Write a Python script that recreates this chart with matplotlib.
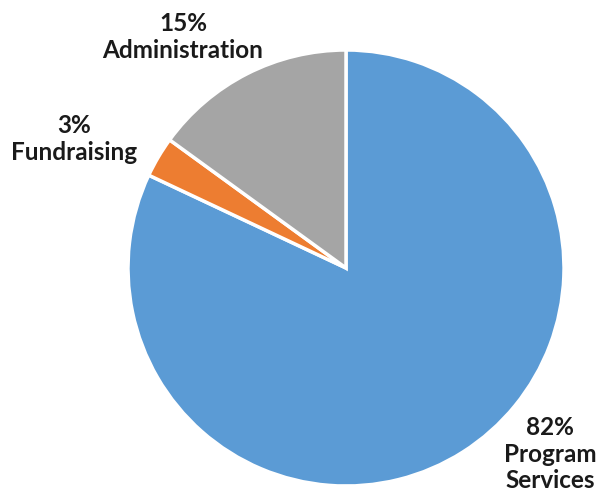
import matplotlib.pyplot as plt

categories = ["Program\nServices", "Fundraising", "Administration"]
shares = [82, 3, 15]
colors = ["#5B9BD5", "#ED7D31", "#A5A5A5"]

# label centres in pixel space (from top-left of the image)
label_pos = [(550, 454), (74, 139), (183, 37)]

W, H = 598, 491
fig = plt.figure(figsize=(W / 100, H / 100), dpi=100)
ax = fig.add_axes([0, 0, 1, 1])
ax.set_xlim(0, W)
ax.set_ylim(0, H)
ax.set_aspect("equal")
ax.axis("off")

ax.pie(shares, colors=colors, startangle=90, counterclock=False,
       center=(346, H - 268), radius=218,
       wedgeprops=dict(edgecolor="white", linewidth=2.5))
ax.set_xlim(0, W)
ax.set_ylim(0, H)

for name, val, (x, y) in zip(categories, shares, label_pos):
    ax.text(x, H - y, f"{val}%\n{name}", ha="center", va="center",
            fontsize=17.5, fontweight="bold", family=["Lato", "DejaVu Sans"],
            color="#1a1a1a", linespacing=1.2)

fig.savefig("out.png", dpi=100)
